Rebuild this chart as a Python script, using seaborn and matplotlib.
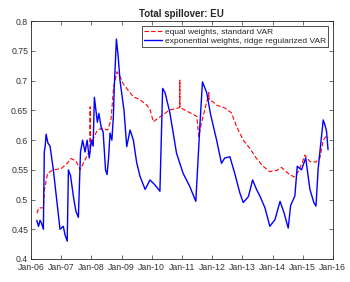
import seaborn as sns
import matplotlib.pyplot as plt
import matplotlib.dates as mdates
import pandas as pd

# data (decimal years)
blue_t = [2006.19, 2006.25, 2006.30, 2006.35, 2006.41, 2006.44, 2006.47, 2006.50, 2006.56, 2006.63,
          2006.74, 2006.85, 2006.96, 2007.07, 2007.13, 2007.20, 2007.24, 2007.31, 2007.42, 2007.49,
          2007.57, 2007.64, 2007.71, 2007.79, 2007.86, 2007.93, 2008.00, 2008.06, 2008.10, 2008.20,
          2008.25, 2008.33, 2008.39, 2008.47, 2008.52, 2008.57, 2008.62, 2008.68, 2008.73, 2008.76,
          2008.83, 2008.89, 2008.95, 2009.08, 2009.17, 2009.28, 2009.39, 2009.50, 2009.61, 2009.78,
          2009.94, 2010.10, 2010.27, 2010.36, 2010.44, 2010.60, 2010.82, 2011.04, 2011.26, 2011.46,
          2011.60, 2011.68, 2011.82, 2011.95, 2012.15, 2012.31, 2012.42, 2012.59, 2012.75, 2012.92,
          2013.03, 2013.20, 2013.34, 2013.47, 2013.58, 2013.75, 2013.91, 2014.08, 2014.25, 2014.38,
          2014.52, 2014.60, 2014.74, 2014.82, 2014.96, 2015.10, 2015.24, 2015.37, 2015.44, 2015.51,
          2015.57, 2015.68, 2015.74, 2015.79, 2015.84]
blue_v = [0.465, 0.455, 0.465, 0.460, 0.450, 0.580, 0.590, 0.610, 0.595, 0.590,
          0.550, 0.500, 0.450, 0.455, 0.440, 0.430, 0.550, 0.540, 0.500, 0.480,
          0.470, 0.580, 0.600, 0.580, 0.600, 0.570, 0.600, 0.590, 0.672, 0.630,
          0.645, 0.620, 0.614, 0.550, 0.542, 0.570, 0.612, 0.600, 0.640, 0.690,
          0.770, 0.740, 0.700, 0.650, 0.589, 0.617, 0.600, 0.562, 0.539, 0.517,
          0.533, 0.525, 0.514, 0.687, 0.680, 0.646, 0.578, 0.544, 0.522, 0.497,
          0.629, 0.698, 0.680, 0.643, 0.600, 0.561, 0.570, 0.572, 0.544, 0.511,
          0.495, 0.505, 0.533, 0.517, 0.506, 0.486, 0.455, 0.466, 0.497, 0.478,
          0.452, 0.490, 0.506, 0.556, 0.550, 0.570, 0.517, 0.495, 0.489, 0.550,
          0.580, 0.634, 0.625, 0.615, 0.584]

red_t = [2006.20, 2006.25, 2006.41, 2006.44, 2006.55, 2006.72, 2007.00, 2007.20, 2007.32, 2007.49,
         2007.63, 2007.77, 2007.90, 2007.955, 2007.96, 2007.965, 2008.04, 2008.20, 2008.37, 2008.54,
         2008.65, 2008.74, 2008.85, 2008.98, 2009.05, 2009.26, 2009.39, 2009.61, 2009.83, 2009.94,
         2010.05, 2010.16, 2010.38, 2010.60, 2010.88, 2010.925, 2010.93, 2010.935, 2011.16, 2011.49,
         2011.56, 2011.65, 2011.84, 2011.885, 2011.89, 2011.895, 2012.04, 2012.15, 2012.42, 2012.64,
         2012.81, 2013.03, 2013.25, 2013.47, 2013.69, 2013.91, 2014.14, 2014.30, 2014.52, 2014.71,
         2014.85, 2015.00, 2015.07, 2015.24, 2015.44, 2015.57, 2015.68, 2015.79, 2015.84]
red_v = [0.477, 0.486, 0.486, 0.515, 0.544, 0.550, 0.552, 0.561, 0.569, 0.565,
         0.550, 0.565, 0.578, 0.580, 0.656, 0.590, 0.600, 0.617, 0.620, 0.617,
         0.634, 0.690, 0.715, 0.704, 0.695, 0.681, 0.673, 0.668, 0.659, 0.652,
         0.631, 0.635, 0.643, 0.651, 0.654, 0.655, 0.701, 0.655, 0.649, 0.640,
         0.606, 0.630, 0.668, 0.668, 0.680, 0.668, 0.664, 0.659, 0.654, 0.646,
         0.623, 0.600, 0.586, 0.569, 0.556, 0.547, 0.549, 0.554, 0.544, 0.538,
         0.547, 0.564, 0.575, 0.564, 0.563, 0.570, 0.600, 0.607, 0.604]

labels = ['equal weights, standard VAR', 'exponential weights, ridge regularized VAR']


def to_date(years):
    out = []
    for y in years:
        yr = int(y)
        out.append(pd.Timestamp(yr, 1, 1) + pd.Timedelta(days=(y - yr) * 365.25))
    return out


red_df = pd.DataFrame({'date': to_date(red_t), 'value': red_v})
blue_df = pd.DataFrame({'date': to_date(blue_t), 'value': blue_v})

sns.set_style('ticks')
plt.rcParams['font.family'] = ['Liberation Sans', 'DejaVu Sans']

fig = plt.figure(figsize=(3.5, 2.82), dpi=100)
ax = fig.add_axes([0.0886, 0.0816, 0.8624, 0.843])

sns.lineplot(data=red_df, x='date', y='value', ax=ax, color='red', linestyle=(0, (4, 2)),
             linewidth=0.8, label=labels[0])
sns.lineplot(data=blue_df, x='date', y='value', ax=ax, color='blue', linewidth=1.0,
             label=labels[1])

ax.set_xlim(pd.Timestamp(2006, 1, 1), pd.Timestamp(2016, 1, 1))
ax.set_ylim(0.4, 0.8)
ax.set_yticks([0.4, 0.45, 0.5, 0.55, 0.6, 0.65, 0.7, 0.75, 0.8])
ax.set_yticklabels(['0.4', '0.45', '0.5', '0.55', '0.6', '0.65', '0.7', '0.75', '0.8'])
ax.xaxis.set_major_locator(mdates.YearLocator())
ax.xaxis.set_major_formatter(mdates.DateFormatter('%b-%y'))
ax.set_xlabel('')
ax.set_ylabel('')
ax.tick_params(direction='in', top=True, right=True, length=3, width=0.5,
               labelsize=6.3, colors='#333333')
ax.tick_params(axis='x', pad=3)
ax.tick_params(axis='y', pad=2)
for s in ax.spines.values():
    s.set_linewidth(0.6)
    s.set_color('#262626')

ax.set_title('Total spillover: EU', fontsize=7, fontweight='bold', pad=3)
leg = ax.legend(loc='upper right', fontsize=6.0, frameon=True, fancybox=False,
                handlelength=2.2, borderpad=0.25, labelspacing=0.1, handletextpad=0.3,
                borderaxespad=0.6)
leg.get_frame().set_edgecolor('black')
leg.get_frame().set_linewidth(0.6)

fig.savefig('out.png', dpi=100)
